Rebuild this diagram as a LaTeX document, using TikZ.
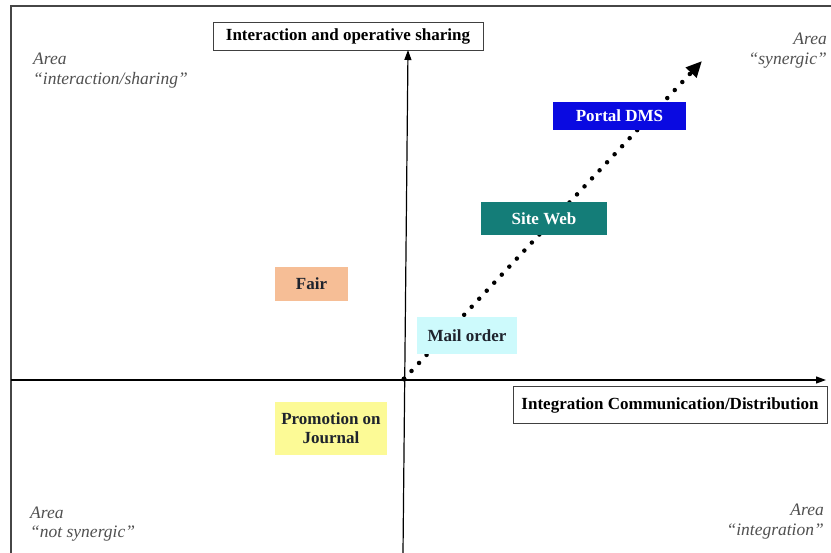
\documentclass[tikz,border=0pt]{standalone}
\usepackage{fontspec}
\setmainfont{Liberation Serif}
\usetikzlibrary{arrows.meta}
\definecolor{frame}{RGB}{70,70,70}
\definecolor{portal}{RGB}{10,10,225}
\definecolor{siteweb}{RGB}{20,125,120}
\definecolor{mailbg}{RGB}{205,250,252}
\definecolor{fairbg}{RGB}{246,190,150}
\definecolor{promobg}{RGB}{252,250,150}
\definecolor{areatext}{RGB}{80,80,80}
\definecolor{darktext}{RGB}{30,35,45}
\tikzset{
  axisline/.style={line width=1.2pt, black, -{Triangle[length=10pt,width=7pt]}},
  axislabel/.style={draw=black!75, line width=0.9pt, fill=white, font=\bfseries\fontsize{17}{19}\selectfont, inner sep=0pt, anchor=center},
  itembox/.style={font=\bfseries\fontsize{17}{19}\selectfont, inner sep=0pt, anchor=center, align=center},
  arealabel/.style={font=\itshape\fontsize{17.5}{20}\selectfont, text=areatext, inner sep=0pt},
  trend/.style={line width=4.5pt, line cap=round, dash pattern=on 0pt off 11pt, -{Triangle[length=16pt,width=14pt,line cap=butt]}}
}
\begin{document}
\begin{tikzpicture}[x=1pt,y=-1pt]
\useasboundingbox (0,0) rectangle (831,553);
\fill[white] (0,0) rectangle (831,553);
% outer frame (top and left edges)
\draw[frame, line width=2pt] (11,553) -- (11,6) -- (831,6);

% dotted trend towards the synergic area, drawn beneath the item boxes
\coordinate (o) at (404,379);
\coordinate (tend) at (702,61);
\draw[trend] (o) -- (tend);

% axis labels
\node[axislabel, minimum width=270pt, minimum height=28pt] (ylab) at (348,36) {Interaction and operative sharing};
\node[axislabel, minimum width=314pt, minimum height=37pt] (xlab) at (670,405) {Integration Communication/Distribution};

% axes
\coordinate (ybot) at (403,553);
\coordinate (xleft) at (11,380);
\coordinate (xright) at (826,380);
\coordinate (ytop) at (408,50);
\draw[axisline] (ybot) -- (ytop);
\draw[axisline] (xleft) -- (xright);
\fill (o) circle (2.5pt);

% items
\node[itembox, fill=portal, text=white, minimum width=133pt, minimum height=28pt] (portal) at (619.5,116) {Portal DMS};
\node[itembox, fill=siteweb, text=white, minimum width=126pt, minimum height=33pt] (web) at (544,218.5) {Site Web};
\node[itembox, fill=mailbg, text=darktext, minimum width=100pt, minimum height=37pt] (mail) at (467,335.5) {Mail order};
\node[itembox, fill=fairbg, text=darktext, minimum width=73pt, minimum height=34pt] (fair) at (311.5,284) {Fair};
\node[itembox, fill=promobg, text=darktext, minimum width=112pt, minimum height=53pt] (promo) at (331,428.5) {Promotion on\\Journal};

% area captions (base anchor sits on the last line)
\node[arealabel, anchor=base west, align=left] (a1) at (33,85) {Area\\``interaction/sharing''};
\node[arealabel, anchor=base east, align=right] (a2) at (827,65) {Area\\``synergic''};
\node[arealabel, anchor=base west, align=left] (a3) at (30,538) {Area\\``not synergic''};
\node[arealabel, anchor=base east, align=right] (a4) at (824,536) {Area\\``integration''};
\end{tikzpicture}
\end{document}
